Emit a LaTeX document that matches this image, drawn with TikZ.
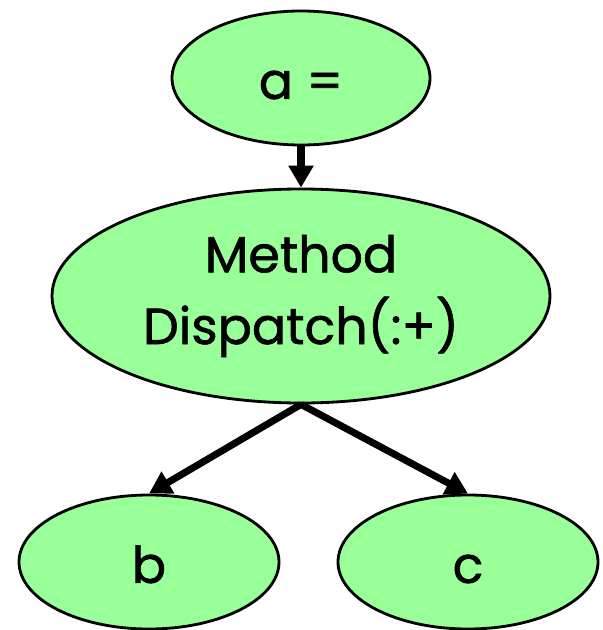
\documentclass[tikz,border=0pt]{standalone}
\usepackage{fontspec}
\newfontfamily\blobfont{Poppins}[BoldFont={Poppins}, BoldFeatures={FakeBold=1.2}]
\usetikzlibrary{shapes.geometric, arrows.meta, positioning}
\definecolor{mint}{RGB}{153, 255, 153}

\begin{document}
\begin{tikzpicture}[
            x=0.025cm, y=-0.025cm,
            blob/.style={ellipse, draw=black, line width=2pt, fill=mint, inner sep=0pt, align=center, font=\blobfont\fontsize{36}{51}\selectfont\bfseries},
            arrow/.style={-{Triangle[length=0.55cm, width=0.6cm]}, line width=5pt, black}
        ]
            \useasboundingbox (0,0) rectangle (603,630);

            \node[blob, text height=30pt, minimum width=258*0.025cm, minimum height=134*0.025cm] (assign) at (301,78) {a =};
            \node[blob, minimum width=498*0.025cm, minimum height=214*0.025cm] (dispatch) at (301,296) {Method\\Dispatch(:+)};
            \node[blob, text height=30pt, minimum width=260*0.025cm, minimum height=134*0.025cm] (argb) at (149,562) {b};
            \node[blob, text height=30pt, minimum width=260*0.025cm, minimum height=134*0.025cm] (argc) at (468,562) {c};

            \draw[arrow] (assign.south) -- (dispatch.north);
            \draw[arrow] (dispatch.south) -- (argb.north);
            \draw[arrow] (dispatch.south) -- (argc.north);
        \end{tikzpicture}
\end{document}
